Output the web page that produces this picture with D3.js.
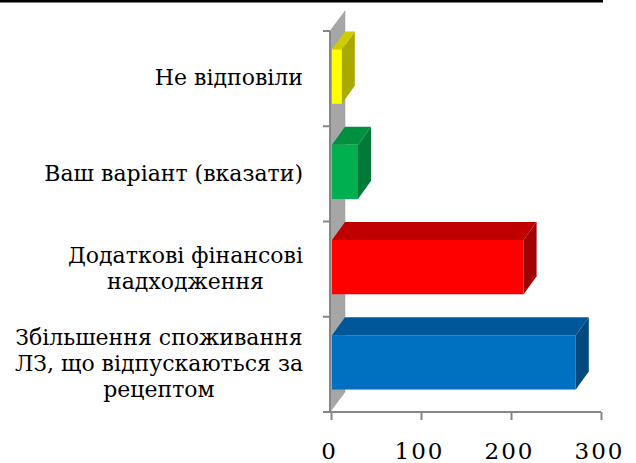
<!DOCTYPE html>
<html><head><meta charset="utf-8">
<script src="https://cdn.jsdelivr.net/npm/d3@7"></script>
<style>html,body{margin:0;padding:0;background:#fff;}svg{display:block;}</style>
</head><body>
<script>
const categories = ["Не відповіли", "Ваш варіант (вказати)", "Додаткові фінансові\nнадходження", "Збільшення споживання\nЛЗ, що відпускаються за\nрецептом"];
const values = [12, 30, 214, 272];
const xTicks = [0, 100, 200, 300];
const frontColors = ["#ffff00", "#00b050", "#ff0000", "#0070c0"];
const topColors = ["#cccc00", "#009040", "#c00000", "#00589a"];
const sideColors = ["#a9a900", "#007a38", "#a00000", "#004a80"];

const W = 636, H = 463;
const svg = d3.select("body").append("svg").attr("width", W).attr("height", H);
svg.append("rect").attr("width", W).attr("height", H).attr("fill", "#fff");
svg.append("rect").attr("x", 0).attr("y", 0).attr("width", 603).attr("height", 2.5).attr("fill", "#000");

const x = d3.scaleLinear().domain([0, 300]).range([331, 601]);
const y = d3.scaleBand().domain(categories).range([31, 412]).paddingInner(0.43).paddingOuter(0.215);
const y0 = 412, yTop = 31;
const wdx = 15, wdy = -20;   // wall depth
const bdx = 13, bdy = -18;   // bar depth

// wall
svg.append("path")
  .attr("d", `M${x(0)-1},${y0} L${x(0)-1},${yTop} L${x(0)-1+wdx},${yTop+wdy} L${x(0)-1+wdx},${y0+wdy} Z`)
  .attr("fill", "#a6a6a6").attr("stroke", "#9a9a9a").attr("stroke-width", 0.5);

// category ticks on vertical axis
const bounds = categories.map(c => y(c) - y.step() * y.paddingInner() / 2);
bounds.push(y0);
const axisColor = "#868686";
svg.append("line").attr("x1", x(0)-1).attr("x2", x(0)-1).attr("y1", yTop).attr("y2", y0)
  .attr("stroke", axisColor).attr("stroke-width", 2);
svg.selectAll(".vt").data(bounds).join("line")
  .attr("x1", x(0) - 8).attr("x2", x(0) - 1)
  .attr("y1", d => d).attr("y2", d => d)
  .attr("stroke", axisColor).attr("stroke-width", 2);

// horizontal axis
const gx = svg.append("g").attr("transform", `translate(0,${y0})`)
  .call(d3.axisBottom(x).tickValues(xTicks).tickSize(8).tickSizeOuter(0).tickFormat(d3.format("d")));
gx.select(".domain").attr("stroke", axisColor).attr("stroke-width", 2).attr("d", `M${x(0)-8},0H${x(300)}`);
gx.selectAll(".tick line").attr("stroke", axisColor).attr("stroke-width", 2);
gx.selectAll(".tick text").attr("y", 0).attr("dy", 0)
  .attr("transform", "translate(-2,47)")
  .attr("fill", "#000").attr("font-family", "DejaVu Serif").attr("font-size", 23)
  .attr("letter-spacing", 2);

// bars
const bars = svg.selectAll(".bar").data(categories).join("g");
bars.each(function(c, i) {
  const g = d3.select(this);
  const x1 = x(0) + 1, x2 = x(values[i]);
  const yt = y(c) - 2, yb = yt + y.bandwidth();
  g.append("path").attr("d", `M${x2},${yt} L${x2+bdx},${yt+bdy} L${x2+bdx},${yb+bdy} L${x2},${yb} Z`).attr("fill", sideColors[i]);
  g.append("path").attr("d", `M${x1},${yt} L${x1+bdx},${yt+bdy} L${x2+bdx},${yt+bdy} L${x2},${yt} Z`).attr("fill", topColors[i]);
  g.append("rect").attr("x", x1).attr("y", yt).attr("width", x2 - x1).attr("height", yb - yt).attr("fill", frontColors[i]);
});

// category labels
const lh = 26;
categories.forEach((c, i) => {
  const lines = c.split("\n");
  const cy = y(c) - 2 + y.bandwidth() / 2 + 1;
  const t = svg.append("text").attr("font-family", "DejaVu Serif").attr("font-size", 22).attr("fill", "#000");
  const spans = lines.map((l, k) => t.append("tspan").text(l)
    .attr("y", cy + (k - (lines.length - 1) / 2) * lh).attr("dy", "0.35em"));
  const widths = spans.map(s => s.node().getComputedTextLength());
  const maxW = d3.max(widths);
  const right = 303;
  spans.forEach(s => s.attr("x", right - maxW / 2).attr("text-anchor", "middle"));
});
</script>
</body></html>
